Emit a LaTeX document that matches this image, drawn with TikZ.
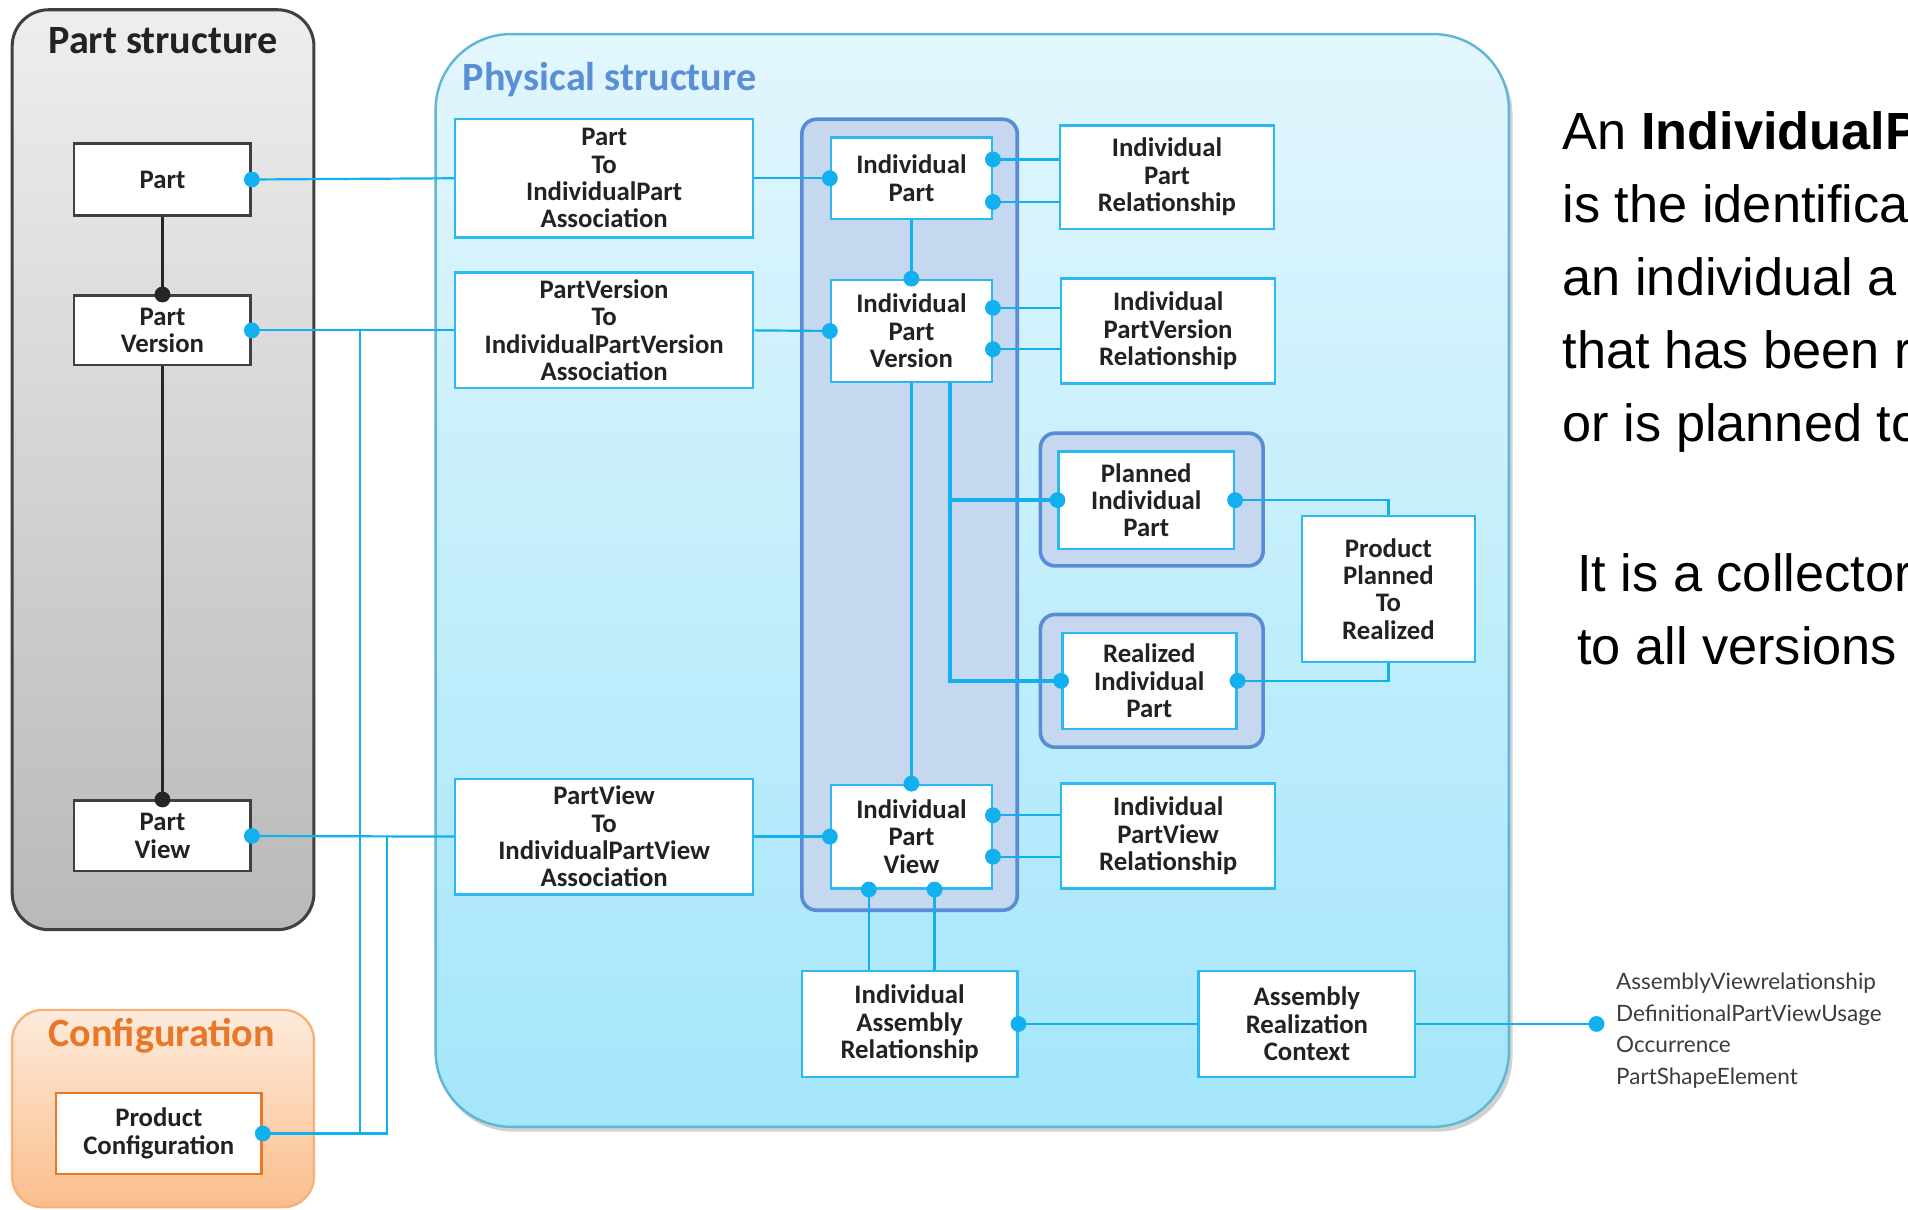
\documentclass[tikz,border=0pt]{standalone}
\usepackage{fontspec}
\setmainfont{Carlito}
\newfontfamily\arialfont{Liberation Sans}
\newfontfamily\listfont{Lato}
\usetikzlibrary{calc}

\definecolor{wirecol}{RGB}{18,176,238}
\definecolor{boxline}{RGB}{44,184,240}
\definecolor{colfill}{RGB}{198,216,239}
\definecolor{colline}{RGB}{88,140,214}
\definecolor{phystitle}{RGB}{90,142,214}
\definecolor{physline}{RGB}{96,182,212}
\definecolor{phystop}{RGB}{226,246,253}
\definecolor{physbot}{RGB}{164,230,251}
\definecolor{greytop}{RGB}{238,238,238}
\definecolor{greybot}{RGB}{185,185,185}
\definecolor{greyline}{RGB}{64,64,64}
\definecolor{cfgtop}{RGB}{253,235,220}
\definecolor{cfgbot}{RGB}{251,190,140}
\definecolor{cfgline}{RGB}{247,178,122}
\definecolor{cfgtitle}{RGB}{232,120,40}
\definecolor{ink}{RGB}{34,34,34}
\definecolor{listink}{RGB}{60,60,60}

\begin{document}
\begin{tikzpicture}[x=1pt,y=-1pt,
  entity/.style={draw=boxline, line width=2pt, fill=white, align=center,
    text=ink, inner sep=0pt, font=\fontsize{22}{22.5}\selectfont\bfseries},
  partbox/.style={entity, draw=greyline},
  holder/.style={fill=colfill, draw=colline, line width=3pt, rounded corners=12pt, inner sep=0pt},
  link/.style={draw=wirecol, line width=1.8pt},
  thicklink/.style={draw=wirecol, line width=3.4pt},
  klink/.style={draw=black!85, line width=1.8pt},
  title/.style={font=\fontsize{33}{36}\selectfont\bfseries},
  prose/.style={anchor=base west, font=\arialfont\fontsize{43}{50}\selectfont, text=black, inner sep=0pt}
]
\useasboundingbox (0,0) rectangle (1568,994);

% ---- region backgrounds ----
\path[top color=greytop, bottom color=greybot, draw=greyline, line width=2.5pt,
  rounded corners=30pt] (10,8) rectangle (258,764);
\node[title, text=ink] (pstitle) at (134,33) {Part structure};

\path[top color=cfgtop, bottom color=cfgbot, draw=cfgline, line width=2pt,
  rounded corners=25pt] (10,830) rectangle (258,992);
\node[title, text=cfgtitle] (cfgtitle) at (133,851) {Configuration};

\fill[black!40, opacity=0.45, rounded corners=62pt] (360,32) rectangle (1243,930);
\path[top color=phystop, bottom color=physbot, draw=physline, line width=2pt,
  rounded corners=62pt] (358,28) rectangle (1240,926);
\node[title, text=phystitle, anchor=base west, inner sep=0pt] (phtitle) at (380,74) {Physical structure};

% ---- grouping frames ----
\node[holder, minimum width=177pt, minimum height=650pt] (col) at (747.5,423) {};
\node[holder, minimum width=183pt, minimum height=109pt] (plc) at (946.5,410.5) {};
\node[holder, minimum width=183pt, minimum height=109pt] (rlc) at (946.5,559.5) {};

% ---- part structure ----
\node[partbox, minimum width=145pt, minimum height=59pt] (part) at (133.5,147.5) {Part};
\node[partbox, minimum width=145pt, minimum height=57pt] (partver) at (133.5,271.5) {Part\\Version};
\node[partbox, minimum width=145pt, minimum height=58pt] (partview) at (133.5,687) {Part\\View};
\node[entity, draw=cfgtitle, minimum width=169pt, minimum height=67pt] (prodconf) at (130.5,931.5) {Product\\Configuration};

% ---- associations ----
\node[entity, minimum width=245pt, minimum height=97pt] (a1) at (496.5,146.5) {Part\\To\\IndividualPart\\Association};
\node[entity, minimum width=245pt, minimum height=95pt] (a2) at (496.5,271.5) {PartVersion\\To\\IndividualPartVersion\\Association};
\node[entity, minimum width=245pt, minimum height=95pt] (a3) at (496.5,687.5) {PartView\\To\\IndividualPartView\\Association};

% ---- individual objects ----
\node[entity, minimum width=132pt, minimum height=67pt] (ip) at (749,146.5) {Individual\\Part};
\node[entity, minimum width=132pt, minimum height=84pt] (ipv) at (749,272) {Individual\\Part\\Version};
\node[entity, minimum width=132pt, minimum height=85pt] (ipview) at (749,687.5) {Individual\\Part\\View};

\node[entity, minimum width=176pt, minimum height=85pt] (r1) at (959,145.5) {Individual\\Part\\Relationship};
\node[entity, minimum width=176pt, minimum height=86pt] (r2) at (960,272) {Individual\\PartVersion\\Relationship};
\node[entity, minimum width=176pt, minimum height=86pt] (r3) at (960,687) {Individual\\PartView\\Relationship};

\node[entity, minimum width=144pt, minimum height=80pt] (pip) at (942,411) {Planned\\Individual\\Part};
\node[entity, minimum width=143pt, minimum height=79pt] (rip) at (944.5,559.5) {Realized\\Individual\\Part};
\node[entity, minimum width=142pt, minimum height=120pt] (pptr) at (1141,484) {Product\\Planned\\To\\Realized};

\node[entity, minimum width=177pt, minimum height=87pt] (iar) at (747.5,841.5) {Individual\\Assembly\\Relationship};
\node[entity, minimum width=178pt, minimum height=87pt] (arc) at (1074,841.5) {Assembly\\Realization\\Context};

% ---- attachment points ----
\coordinate (ipR1) at ($(ip.north east)+(0,19)$);
\coordinate (ipR2) at ($(ip.north east)+(0,54)$);
\coordinate (ipvR1) at ($(ipv.north east)+(0,24)$);
\coordinate (ipvR2) at ($(ipv.north east)+(0,58)$);
\coordinate (ivR1) at ($(ipview.north east)+(0,26)$);
\coordinate (ivR2) at ($(ipview.north east)+(0,60)$);
\coordinate (ivB1) at ($(ipview.south west)+(32,0)$);
\coordinate (ivB2) at ($(ipview.south west)+(86,0)$);
\coordinate (tap) at ($(ipv.south)+(32,0)$);
\coordinate (pvdrop) at ($(partver.east)+(89,0)$);
\coordinate (vwdrop) at ($(partview.east)+(111,0)$);
\coordinate (listend) at (1312,841.5);

% ---- part structure links ----
\draw[klink] (part.south) -- (partver.north);
\draw[klink] (partver.south) -- (partview.north);

% ---- connectors ----
\draw[link] (part.east) -- (a1.west);
\draw[link] (a1.east) -- (ip.west);
\draw[link] (partver.east) -- (a2.west);
\draw[link] (a2.east) -- (ipv.west);
\draw[link] (partview.east) -- (a3.west);
\draw[link] (a3.east) -- (ipview.west);
\draw[link] (pvdrop) |- (prodconf.east);
\draw[link] (vwdrop) |- (prodconf.east);

\draw[link] (ip.south) -- (ipv.north);
\draw[link] (ipv.south) -- (ipview.north);
\draw[thicklink] (tap) |- (rip.west);
\draw[thicklink] (tap |- pip.west) -- (pip.west);

\draw[link] (ipR1) -- (ipR1 -| r1.west);
\draw[link] (ipR2) -- (ipR2 -| r1.west);
\draw[link] (ipvR1) -- (ipvR1 -| r2.west);
\draw[link] (ipvR2) -- (ipvR2 -| r2.west);
\draw[link] (ivR1) -- (ivR1 -| r3.west);
\draw[link] (ivR2) -- (ivR2 -| r3.west);
\draw[link] (ivB1) -- (ivB1 |- iar.north);
\draw[link] (ivB2) -- (ivB2 |- iar.north);

\draw[link] (pip.east) -| (pptr.north);
\draw[link] (rip.east) -| (pptr.south);
\draw[link] (iar.east) -- (arc.west);
\draw[link] (arc.east) -- (listend);

% ---- connection dots ----
\foreach \p in {partver.north, partview.north}
  \fill[black!85] (\p) circle[radius=6.5pt];
\foreach \p in {part.east, partver.east, partview.east, prodconf.east,
    ip.west, ipv.west, ipview.west, ipv.north, ipview.north,
    ipR1, ipR2, ipvR1, ipvR2, ivR1, ivR2, ivB1, ivB2,
    pip.west, pip.east, rip.west, rip.east, iar.east, listend}
  \fill[wirecol] (\p) circle[radius=6.5pt];

% ---- class list ----
\node[anchor=west, align=left, inner sep=0pt, text=listink,
  font=\listfont\fontsize{18.5}{25.8}\selectfont] (classlist) at (1328,847)
  {AssemblyViewrelationship\\DefinitionalPartViewUsage\\Occurrence\\PartShapeElement};

% ---- description ----
\node[prose] (d1) at (1284,123) {An \textbf{IndividualP}};
\node[prose] (d2) at (1284,183) {is the identifica};
\node[prose] (d3) at (1284,243) {an individual a};
\node[prose] (d4) at (1284,303) {that has been r};
\node[prose] (d5) at (1284,363) {or is planned to};
\node[prose] (d6) at (1296,486) {It is a collector};
\node[prose] (d7) at (1296,546) {to all versions};
\end{tikzpicture}
\end{document}
